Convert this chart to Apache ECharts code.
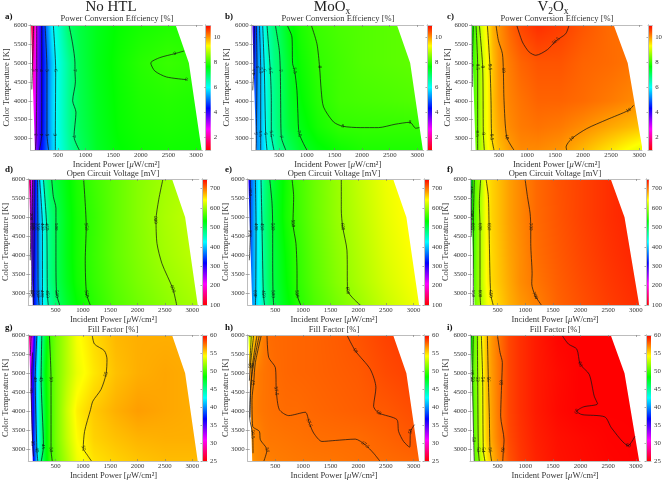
<!DOCTYPE html>
<html>
<head>
<meta charset="utf-8">
<title>Device maps</title>
<style>html,body{margin:0;padding:0;background:#fff}#chart{width:665px;height:481px}</style>
<script src="https://cdn.jsdelivr.net/npm/echarts@6/dist/echarts.min.js"></script>
</head>
<body>
<div id="chart"></div>
<script>
// Sampling knots of the measured maps: incident power (uW/cm2) and colour temperature (K)
const powerKnots = [0, 60, 120, 200, 300, 400, 500, 700, 900, 1200, 1600, 2000, 2500, 3120];
const tempKnots = [6000, 5000, 4000, 3300, 2700];

// Power conversion efficiency [%]
const pceNoHtl = [
  [1.0, 2.0, 3.1, 4.15, 5.2, 5.95, 6.3, 7.0, 7.25, 7.5, 7.7, 7.8, 7.87, 7.85],
  [1.2, 2.3, 3.3, 4.1, 4.95, 5.6, 6.15, 6.72, 7.2, 7.52, 7.75, 7.92, 8.03, 7.95],
  [1.8, 2.5, 3.4, 4.1, 5.0, 5.65, 6.15, 6.72, 7.15, 7.48, 7.72, 7.85, 7.9, 7.85],
  [2.0, 2.7, 3.5, 4.15, 5.0, 5.65, 6.15, 6.7, 7.12, 7.45, 7.7, 7.8, 7.84, 7.8],
  [2.5, 3.0, 3.6, 4.3, 5.0, 5.6, 6.1, 6.62, 7.03, 7.42, 7.65, 7.74, 7.77, 7.75]
];
const pceMoOx = [
  [3.5, 4.5, 5.3, 6.0, 6.6, 6.9, 7.1, 7.6, 7.85, 8.05, 8.15, 8.2, 8.25, 8.3],
  [4.0, 4.7, 5.3, 5.8, 6.4, 6.8, 6.97, 7.45, 7.75, 7.98, 8.1, 8.2, 8.25, 8.3],
  [4.4, 4.9, 5.3, 5.75, 6.35, 6.75, 6.95, 7.4, 7.65, 7.9, 8.08, 8.12, 8.15, 8.2],
  [4.6, 5.0, 5.35, 5.75, 6.35, 6.7, 6.95, 7.35, 7.55, 7.8, 7.98, 8.0, 8.0, 8.0],
  [4.8, 5.0, 5.35, 5.7, 6.2, 6.5, 6.8, 7.1, 7.4, 7.6, 7.75, 7.85, 7.85, 7.85]
];
const pceV2Ox = [
  [7.3, 8.1, 8.6, 9.1, 9.5, 9.85, 10.05, 10.35, 10.55, 10.7, 10.6, 10.45, 10.3, 10.25],
  [7.8, 8.1, 8.5, 8.95, 9.4, 9.75, 10.02, 10.2, 10.35, 10.45, 10.45, 10.35, 10.3, 10.2],
  [7.9, 8.2, 8.5, 8.95, 9.4, 9.75, 9.98, 10.15, 10.25, 10.35, 10.35, 10.3, 10.2, 10.05],
  [8.0, 8.2, 8.5, 8.95, 9.4, 9.7, 9.9, 10.1, 10.2, 10.25, 10.2, 10.08, 9.9, 9.7],
  [8.1, 8.3, 8.55, 8.9, 9.3, 9.55, 9.75, 9.98, 10.1, 10.1, 10.02, 9.8, 9.5, 9.1]
];

// Open circuit voltage [mV]
const vocNoHtl = [
  [100, 230, 310, 395, 465, 495, 510, 530, 545, 560, 575, 590, 602, 612],
  [170, 260, 320, 385, 445, 480, 498, 525, 542, 556, 575, 590, 605, 618],
  [220, 280, 325, 385, 445, 478, 498, 525, 542, 557, 575, 588, 602, 615],
  [230, 285, 330, 385, 445, 478, 497, 522, 540, 555, 572, 585, 597, 610],
  [250, 290, 330, 378, 435, 468, 488, 515, 533, 550, 568, 580, 592, 605]
];
const vocMoOx = [
  [270, 355, 385, 425, 475, 501, 515, 540, 560, 578, 597, 615, 635, 650],
  [310, 352, 392, 432, 478, 502, 516, 542, 558, 577, 596, 612, 632, 650],
  [320, 355, 393, 428, 472, 498, 510, 535, 553, 573, 592, 608, 628, 645],
  [330, 360, 393, 428, 470, 496, 508, 532, 551, 570, 589, 605, 624, 642],
  [340, 365, 393, 425, 462, 490, 503, 527, 546, 565, 582, 598, 618, 637]
];
const vocV2Ox = [
  [420, 560, 585, 605, 652, 660, 668, 682, 692, 705, 715, 722, 730, 738],
  [470, 555, 585, 610, 645, 660, 668, 682, 692, 705, 714, 722, 730, 738],
  [510, 555, 590, 610, 645, 658, 666, 680, 690, 703, 712, 720, 728, 736],
  [515, 560, 590, 610, 645, 658, 665, 678, 690, 700, 710, 718, 726, 734],
  [520, 565, 590, 605, 635, 650, 660, 675, 685, 695, 708, 716, 724, 732]
];

// Fill factor [%]
const ffNoHtl = [
  [26, 31, 38, 43, 47, 49.8, 51, 52.5, 54, 55, 55.8, 56, 56, 56],
  [29, 35, 39.5, 44, 48, 49.8, 51, 52.5, 53.7, 54.7, 55.6, 56, 56.2, 56],
  [30, 35, 39, 44, 47.5, 49.7, 51, 53, 54.5, 55.4, 56, 56.4, 56.2, 56],
  [30, 35.5, 39, 43.5, 47.5, 49.7, 51, 52.8, 54.2, 55.2, 55.6, 55.9, 56, 56],
  [31, 35, 38.5, 44, 47.5, 49.5, 50.7, 52.3, 53.8, 54.8, 55.2, 55.5, 55.7, 55.7]
];
const ffMoOx = [
  [52, 53.5, 55.5, 56.6, 57.2, 57.55, 57.6, 57.65, 57.7, 57.75, 57.9, 58.1, 58.5, 58.8],
  [56.3, 56.7, 57, 57.2, 57.35, 57.45, 57.55, 57.65, 57.7, 57.75, 57.85, 57.95, 58.3, 58.6],
  [56.5, 56.8, 57.1, 57.25, 57.35, 57.42, 57.47, 57.55, 57.55, 57.65, 57.75, 57.85, 57.98, 58.3],
  [56.2, 56.6, 56.9, 57, 57.2, 57.3, 57.3, 57.35, 57.4, 57.48, 57.52, 57.55, 57.75, 58.05],
  [56.2, 56.5, 56.7, 56.9, 57, 57.1, 57.15, 57.2, 57.25, 57.3, 57.35, 57.45, 57.55, 57.7]
];
const ffV2Ox = [
  [46, 50, 51.6, 54, 55.8, 56.6, 57.3, 58.4, 58.9, 59.4, 59.9, 60, 60, 60],
  [47, 50.3, 51.6, 53.6, 55.7, 56.5, 57.2, 58.4, 58.9, 59.4, 59.75, 60, 60, 60],
  [47.5, 50, 51.4, 53.4, 55.5, 56.4, 57.2, 58.4, 58.9, 59.4, 59.8, 60, 60, 60],
  [48, 50, 51.4, 53.3, 55.4, 56.3, 57.1, 58.3, 58.8, 59.3, 59.65, 59.8, 59.95, 60],
  [48, 50, 51, 52.6, 54.6, 55.8, 56.7, 58.1, 58.7, 59.2, 59.6, 59.75, 59.9, 60]
];

// Iso-lines: [level, [[power, temperature], ...], [vertices that carry a label]]
const linesPceNoHtl = [
  [2, [[60, 6000], [45, 5300], [35, 4800], [25, 4300]], [2]],
  [3, [[115, 6000], [115, 4800], [105, 3100], [90, 2700]], [1, 2]],
  [4, [[205, 6000], [205, 4800], [205, 3100], [163, 2700]], [1, 2]],
  [5, [[265, 6000], [300, 4800], [300, 3100], [330, 2700]], [1, 2]],
  [6, [[415, 6000], [458, 4800], [452, 3100], [452, 2700]], [1, 2]],
  [7, [[699, 6000], [765, 5500], [807, 5000], [807, 4800], [815, 4500], [765, 4000], [825, 3700], [790, 3050], [885, 2700]], [3, 7]],
  [8, [[2783, 5314], [2614, 5243], [2343, 5138], [2180, 4997], [2253, 4786], [2464, 4628], [2825, 4558]], [1, 6]]
];
const linesPceMoOx = [
  [4.5, [[48, 6000], [36, 4760], [18, 4276]], [1]],
  [5, [[84, 6000], [96, 4892], [84, 3133], [78, 2693]], [1, 2]],
  [5.5, [[139, 6000], [163, 4800], [163, 3133], [163, 2693]], [1, 2]],
  [6, [[199, 6000], [229, 4800], [253, 3133], [277, 2693]], [1, 2]],
  [6.5, [[277, 6000], [337, 4800], [355, 4012], [355, 3133], [404, 2693]], [1, 3]],
  [7, [[428, 6000], [500, 5331], [518, 4800], [524, 4012], [536, 3045], [620, 2693]], [2, 4]],
  [7.5, [[639, 6000], [729, 5683], [741, 4980], [777, 4800], [819, 4276], [837, 3660], [861, 3133], [1000, 2693]], [3, 6]],
  [8, [[1078, 6000], [1181, 5507], [1229, 4892], [1259, 4276], [1301, 3836], [1482, 3440], [1651, 3326], [1964, 3291], [2295, 3291], [2596, 3379], [2867, 3432], [2970, 3274], [3036, 3291]], [2, 6, 10]]
];
const linesPceV2Ox = [
  [8, [[42, 6000], [24, 4936], [24, 4364]], [1]],
  [8.5, [[89, 6000], [119, 4892], [119, 3133], [119, 2693]], [1, 2]],
  [9, [[149, 6000], [208, 4892], [220, 3133], [238, 2693]], [1, 2]],
  [9.5, [[292, 6000], [339, 4892], [357, 4012], [369, 3045], [411, 2693]], [1, 3]],
  [10, [[446, 6000], [488, 5595], [560, 5244], [577, 4804], [589, 4012], [637, 3045], [768, 2693]], [3, 5]],
  [10.5, [[815, 6000], [917, 5551], [1036, 5288], [1155, 5200], [1363, 5349], [1512, 5578], [1690, 5771], [1750, 6000]], [5]],
  [10, [[2899, 3880], [2810, 3748], [2423, 3502], [2065, 3265], [1798, 3001], [1696, 2781], [1708, 2693]], [1, 4]]
];
const linesVocNoHtl = [
  [200, [[36, 6000], [48, 5015], [36, 3872]], [1]],
  [250, [[78, 6000], [72, 4751], [60, 2992]], [1, 2]],
  [300, [[108, 6000], [108, 4751], [96, 2992], [96, 2684]], [1, 2]],
  [350, [[169, 6000], [175, 4751], [181, 2992], [199, 2684]], [1, 2]],
  [400, [[205, 6000], [259, 4751], [259, 2992], [259, 2684]], [1, 2]],
  [450, [[277, 6000], [337, 4751], [349, 2992], [367, 2684]], [1, 2]],
  [500, [[428, 6000], [458, 5543], [506, 5235], [506, 4751], [506, 3872], [518, 2992], [578, 2684]], [3, 5]],
  [550, [[1012, 6000], [1060, 4751], [1042, 3872], [1066, 2992], [1138, 2684]], [1, 3]],
  [600, [[2464, 6000], [2386, 5455], [2337, 4927], [2355, 4311], [2446, 3784], [2645, 3124], [2717, 2684]], [2, 5]]
];
const linesVocMoOx = [
  [350, [[48, 6000], [48, 5650], [48, 4575], [30, 3872]], [1, 2]],
  [400, [[139, 6000], [151, 4751], [145, 2992], [139, 2684]], [1, 2]],
  [450, [[241, 6000], [259, 4751], [283, 2992], [307, 2684]], [1, 2]],
  [500, [[398, 6000], [440, 5367], [452, 4751], [452, 3872], [458, 2992], [470, 2684]], [2, 4]],
  [550, [[801, 6000], [831, 5543], [819, 4839], [873, 4311], [892, 3520], [892, 2992], [964, 2684]], [2, 5]],
  [600, [[1693, 6000], [1693, 5191], [1717, 4751], [1795, 4135], [1807, 3080], [1916, 2860], [2048, 2684]], [2, 4]]
];
const linesVocV2Ox = [
  [450, [[18, 5719], [18, 5015]], [0, 1]],
  [500, [[36, 6000], [30, 5103], [24, 4500]], [1]],
  [550, [[78, 6000], [60, 4751], [60, 3000], [60, 2684]], [1, 2]],
  [600, [[193, 6000], [169, 5367], [181, 4751], [181, 3000], [193, 2684]], [2, 3]],
  [650, [[290, 6000], [332, 5543], [345, 4751], [350, 4311], [374, 2992], [423, 2684]], [2, 4]],
  [700, [[996, 6000], [1039, 5543], [1087, 5103], [1099, 4751], [1099, 4311], [1123, 3520], [1117, 3256], [1178, 2948], [1298, 2684]], [3, 7]]
];
const linesFfNoHtl = [
  [30, [[54, 6000], [36, 5455]], [0]],
  [35, [[78, 5543], [54, 4531], [78, 3168], [96, 2816]], [1, 2]],
  [40, [[157, 6000], [127, 4839], [157, 2992], [175, 2684]], [1, 2]],
  [45, [[247, 6000], [235, 4839], [277, 3080], [235, 2684]], [1, 2]],
  [50, [[386, 6000], [416, 4839], [416, 2992], [440, 2684]], [1, 2]],
  [55, [[1169, 6000], [1211, 5763], [1392, 5587], [1440, 5367], [1422, 4971], [1331, 4575], [1181, 4267], [1139, 4047], [1030, 3476], [1006, 3037], [1078, 2860], [1163, 2684]], [4, 9]]
];
const linesFfMoOx = [
  [54, [[66, 6000], [36, 5191]], [0]],
  [55, [[108, 6000], [48, 5191], [30, 4800]], [1]],
  [56, [[169, 6000], [84, 5191], [54, 4540], [42, 3837]], [1]],
  [56.5, [[211, 6000], [100, 5200], [48, 4540], [36, 3837], [90, 3398], [96, 2904]], [4]],
  [57, [[247, 6000], [139, 5279], [108, 4751], [78, 4311], [90, 3608], [211, 3476], [229, 3256], [349, 2992], [289, 2684]], [2, 7]],
  [57.5, [[349, 6000], [380, 5411], [500, 5147], [518, 4531], [572, 4047], [741, 3889], [1042, 3977], [1114, 3696], [1193, 3432], [1343, 3212], [1584, 3238], [1946, 3273], [2126, 3124], [2277, 2904], [2398, 2684]], [3, 7, 12]],
  [58, [[1795, 6000], [1946, 5587], [2217, 5103], [2319, 4619], [2277, 4135], [2367, 3959], [2699, 3784], [2729, 3476], [2819, 3212], [2928, 3062], [2946, 3476], [3018, 3652]], [1, 5, 10]]
];
const linesFfV2Ox = [
  [48, [[18, 6000], [12, 4839], [12, 4400]], [0, 1]],
  [50, [[60, 6000], [48, 5015], [48, 4839], [66, 3256], [78, 2684]], [1, 2, 3]],
  [52, [[133, 6000], [139, 4839], [151, 2992], [169, 2684]], [1, 2]],
  [54, [[205, 6000], [229, 4839], [241, 2992], [272, 2684]], [1, 2]],
  [56, [[314, 6000], [332, 4839], [350, 3872], [362, 2992], [393, 2684]], [1, 3]],
  [58, [[495, 6000], [543, 5543], [585, 5279], [573, 4751], [555, 3872], [616, 3256], [604, 2992], [592, 2684]], [3, 6]],
  [60, [[1661, 6000], [1781, 5763], [1932, 5631], [1993, 5235], [2156, 4971], [2247, 4399], [2307, 4197], [2053, 4118], [1932, 4003], [2023, 3916], [2440, 3854], [2560, 3564], [2862, 3106], [2983, 3344]], [3, 8, 12]]
];

// Scales and tick labels
const pceRange = [1, 11];
const vocRange = [100, 750];
const ffRange = [25, 60];
const pceBarTicks = [2, 4, 6, 8, 10];
const vocBarTicks = [100, 200, 300, 400, 500, 600, 700];
const ffBarTicks = [25, 30, 35, 40, 45, 50, 55, 60];
const powerTicks = [500, 1000, 1500, 2000, 2500, 3000];
const tempTicks = [3000, 3500, 4000, 4500, 5000, 5500, 6000];

// Edges of the measured region
const rightEdgeWide = [[2630, 6000], [2870, 5000], [3100, 2700]];
const rightEdgeNarrow = [[2545, 6000], [2795, 5000], [3060, 2700]];
const leftEdge = [[12, 6000], [82, 2700]];

const INK = '#333';
const SERIF = '"Liberation Serif", serif';
const plainNumber = (v) => String(v);

const panels = [
  { tag: 'a)', tagX: 5, tagY: 17, title: 'Power Conversion Effciency [%]', titleX: 117, titleY: 19, field: pceNoHtl, lines: linesPceNoHtl, range: pceRange, barTicks: pceBarTicks, edge: rightEdgeWide, left: 30.4, top: 25, w: 172, h: 125, xMax: 3115, bar: 205.7, gap: 19.4 },
  { tag: 'b)', tagX: 225, tagY: 17, title: 'Power Conversion Effciency [%]', titleX: 338, titleY: 19, field: pceMoOx, lines: linesPceMoOx, range: pceRange, barTicks: pceBarTicks, edge: rightEdgeWide, left: 251.7, top: 25, w: 172, h: 125, xMax: 3115, bar: 427, gap: 20.7 },
  { tag: 'c)', tagX: 447, tagY: 17, title: 'Power Conversion Effciency [%]', titleX: 557, titleY: 19, field: pceV2Ox, lines: linesPceV2Ox, range: pceRange, barTicks: pceBarTicks, edge: rightEdgeNarrow, left: 471, top: 25, w: 171, h: 125, xMax: 3050, bar: 648, gap: 19 },
  { tag: 'd)', tagX: 5, tagY: 170, title: 'Open Circuit Voltage [mV]', titleX: 113, titleY: 174, field: vocNoHtl, lines: linesVocNoHtl, range: vocRange, barTicks: vocBarTicks, edge: rightEdgeWide, left: 26.3, top: 179, w: 172.5, h: 126, xMax: 3120, bar: 202, gap: 18.3 },
  { tag: 'e)', tagX: 225, tagY: 170, title: 'Open Circuit Voltage [mV]', titleX: 334, titleY: 174, field: vocMoOx, lines: linesVocMoOx, range: vocRange, barTicks: vocBarTicks, edge: rightEdgeWide, left: 247.7, top: 179, w: 172.5, h: 126, xMax: 3120, bar: 424, gap: 17.7 },
  { tag: 'f)', tagX: 447, tagY: 170, title: 'Open Circuit Voltage [mV]', titleX: 555, titleY: 174, field: vocV2Ox, lines: linesVocV2Ox, range: vocRange, barTicks: vocBarTicks, edge: rightEdgeNarrow, left: 470, top: 179, w: 170, h: 126, xMax: 3075, bar: 646, gap: 20 },
  { tag: 'g)', tagX: 5, tagY: 328, title: 'Fill Factor [%]', titleX: 113, titleY: 330, field: ffNoHtl, lines: linesFfNoHtl, range: ffRange, barTicks: ffBarTicks, edge: rightEdgeWide, left: 26.3, top: 335, w: 172.5, h: 126, xMax: 3120, bar: 202, gap: 18.3 },
  { tag: 'h)', tagX: 225, tagY: 328, title: 'Fill Factor [%]', titleX: 334, titleY: 330, field: ffMoOx, lines: linesFfMoOx, range: ffRange, barTicks: ffBarTicks, edge: rightEdgeWide, left: 247.7, top: 335, w: 172.5, h: 126, xMax: 3120, bar: 424, gap: 17.7 },
  { tag: 'i)', tagX: 447, tagY: 328, title: 'Fill Factor [%]', titleX: 555, titleY: 330, field: ffV2Ox, lines: linesFfV2Ox, range: ffRange, barTicks: ffBarTicks, edge: rightEdgeNarrow, left: 470, top: 335, w: 170, h: 126, xMax: 3075, bar: 646, gap: 20 }
];

// Flipped HSV wheel: red at the bottom of the scale, back to red at the top
function hueRgb(hue) {
  const h = ((hue % 360) + 360) % 360 / 60;
  const x = 255 * (1 - Math.abs(h % 2 - 1));
  const table = [[255, x, 0], [x, 255, 0], [0, 255, x], [0, x, 255], [x, 0, 255], [255, 0, x]];
  return table[Math.floor(h) % 6];
}
function valueRgb(v, range) {
  const t = Math.min(1, Math.max(0, (v - range[0]) / (range[1] - range[0])));
  return hueRgb(360 * (1 - t));
}
function rgbText(c) {
  return 'rgb(' + c.map(Math.round).join(',') + ')';
}

// One image per knot cell, shaded between its four corner values
function fieldRender(range) {
  return function (params, api) {
    const p0 = api.coord([api.value(0), api.value(1)]);
    const p1 = api.coord([api.value(2), api.value(3)]);
    const x0 = Math.round(Math.min(p0[0], p1[0]));
    const x1 = Math.round(Math.max(p0[0], p1[0]));
    const y0 = Math.round(Math.min(p0[1], p1[1]));
    const y1 = Math.round(Math.max(p0[1], p1[1]));
    const w = Math.max(1, x1 - x0);
    const h = Math.max(1, y1 - y0);
    const canvas = document.createElement('canvas');
    canvas.width = w;
    canvas.height = h;
    const ctx = canvas.getContext('2d');
    const img = ctx.createImageData(w, h);
    const tl = api.value(4), tr = api.value(5), bl = api.value(6), br = api.value(7);
    for (let j = 0; j < h; j++) {
      const v = (j + 0.5) / h;
      for (let i = 0; i < w; i++) {
        const u = (i + 0.5) / w;
        const val = (tl * (1 - u) + tr * u) * (1 - v) + (bl * (1 - u) + br * u) * v;
        const c = valueRgb(val, range);
        const k = (j * w + i) * 4;
        img.data[k] = c[0];
        img.data[k + 1] = c[1];
        img.data[k + 2] = c[2];
        img.data[k + 3] = 255;
      }
    }
    ctx.putImageData(img, 0, 0);
    return { type: 'image', silent: true, style: { image: canvas, x: x0, y: y0, width: w, height: h } };
  };
}

function fieldCells(field) {
  const cells = [];
  for (let r = 0; r + 1 < tempKnots.length; r++) {
    for (let c = 0; c + 1 < powerKnots.length; c++) {
      cells.push([powerKnots[c], tempKnots[r], powerKnots[c + 1], tempKnots[r + 1],
        field[r][c], field[r][c + 1], field[r + 1][c], field[r + 1][c + 1]]);
    }
  }
  return cells;
}

const grid = [], xAxis = [], yAxis = [], series = [], title = [];

function addAxes(gridIndex, xOpt, yOpt) {
  xAxis.push(xOpt);
  yAxis.push(yOpt);
  return { xAxisIndex: xAxis.length - 1, yAxisIndex: yAxis.length - 1 };
}

const frameLine = { show: true, lineStyle: { color: '#bdbdbd', width: 1 } };
const innerTick = (vals) => ({ show: true, inside: true, length: 2, customValues: vals, lineStyle: { color: '#777', width: 0.6 } });

title.push({ text: 'No HTL', left: 111, top: 7, padding: 0, textAlign: 'center', textVerticalAlign: 'middle', textStyle: { fontFamily: SERIF, fontSize: 15, fontWeight: 'normal', color: '#222' } });
['MoO{s|x}', 'V{s|2}O{s|x}'].forEach((t, i) => {
  title.push({
    text: t, left: i ? 553 : 332, top: 7, padding: 0, textAlign: 'center', textVerticalAlign: 'middle',
    textStyle: { fontFamily: SERIF, fontSize: 15, fontWeight: 'normal', color: '#222', rich: { s: { fontFamily: SERIF, fontSize: 9.5, color: '#222', verticalAlign: 'bottom', lineHeight: 18 } } }
  });
});

panels.forEach((p) => {
  title.push({ text: p.tag, left: p.tagX, top: p.tagY, padding: 0, textVerticalAlign: 'middle', textStyle: { fontFamily: SERIF, fontSize: 9, fontWeight: 'bold', color: '#111' } });
  title.push({ text: p.title, left: p.titleX, top: p.titleY, padding: 0, textAlign: 'center', textVerticalAlign: 'middle', textStyle: { fontFamily: SERIF, fontSize: 8.5, fontWeight: 'normal', color: INK } });

  // Map area
  const g = grid.length;
  grid.push({ left: p.left, top: p.top, width: p.w, height: p.h });
  const ax = addAxes(g, {
    type: 'value', gridIndex: g, min: 0, max: p.xMax, z: 10, position: 'bottom',
    axisLine: frameLine, axisTick: innerTick(powerTicks), splitLine: { show: false },
    axisLabel: { customValues: powerTicks, formatter: plainNumber, margin: 2, fontFamily: SERIF, fontSize: 6.8, color: INK },
    name: 'Incident Power [{m|\u03bc}W/cm\u00b2]', nameLocation: 'middle', nameGap: 9,
    nameTextStyle: { fontFamily: SERIF, fontSize: 8.5, color: INK, rich: { m: { fontFamily: SERIF, fontStyle: 'italic', fontSize: 8.5, color: INK } } }
  }, {
    type: 'value', gridIndex: g, min: 2700, max: 6000, z: 10, position: 'left',
    axisLine: frameLine, axisTick: innerTick(tempTicks), splitLine: { show: false },
    axisLabel: { customValues: tempTicks, formatter: plainNumber, margin: 3, fontFamily: SERIF, fontSize: 6.8, color: INK },
    name: 'Color Temperature [K]', nameLocation: 'middle', nameGap: p.gap, nameRotate: 90, nameMoveOverlap: false,
    nameTextStyle: { fontFamily: SERIF, fontSize: 8.5, color: INK }
  });
  addAxes(g, {
    type: 'value', gridIndex: g, min: 0, max: p.xMax, z: 10, position: 'top',
    axisLine: frameLine, axisTick: innerTick(powerTicks), axisLabel: { show: false }, splitLine: { show: false }
  }, {
    type: 'value', gridIndex: g, min: 2700, max: 6000, z: 10, position: 'right',
    axisLine: frameLine, axisTick: innerTick(tempTicks), axisLabel: { show: false }, splitLine: { show: false }
  });

  // Filled field
  series.push({
    type: 'custom', xAxisIndex: ax.xAxisIndex, yAxisIndex: ax.yAxisIndex, z: 2, clip: true, silent: true,
    coordinateSystem: 'cartesian2d', renderItem: fieldRender(p.range), data: fieldCells(p.field)
  });

  // White outside the measured region
  const masks = [
    [[-20, 6020]].concat([[leftEdge[0][0], 6020]], leftEdge, [[leftEdge[1][0], 2680], [-20, 2680]]),
    [[p.edge[0][0], 6020]].concat(p.edge, [[p.edge[2][0], 2680], [3300, 2680], [3300, 6020]])
  ];
  series.push({
    type: 'custom', xAxisIndex: ax.xAxisIndex, yAxisIndex: ax.yAxisIndex, z: 3, clip: true, silent: true,
    coordinateSystem: 'cartesian2d', data: [[0, 2700], [0, 2700]],
    renderItem: (params, api) => ({
      type: 'polygon', silent: true,
      shape: { points: masks[params.dataIndex].map((pt) => api.coord(pt)) },
      style: { fill: '#fff', stroke: null }
    })
  });

  // Iso-lines and their value labels
  const labels = [];
  p.lines.forEach((line) => {
    series.push({
      type: 'line', xAxisIndex: ax.xAxisIndex, yAxisIndex: ax.yAxisIndex, z: 4, silent: true, clip: true,
      data: line[1], showSymbol: false, symbol: 'none', smooth: 0.25,
      lineStyle: { color: '#151515', width: 0.75 }
    });
    line[2].forEach((idx) => {
      const pts = line[1];
      const a = pts[Math.max(0, idx - 1)], b = pts[idx], c = pts[Math.min(pts.length - 1, idx + 1)];
      labels.push([b[0], b[1], a[0], a[1], c[0], c[1], line[0]]);
    });
  });
  series.push({
    type: 'custom', xAxisIndex: ax.xAxisIndex, yAxisIndex: ax.yAxisIndex, z: 5, clip: true, silent: true,
    coordinateSystem: 'cartesian2d', data: labels,
    renderItem: (params, api) => {
      const at = api.coord([api.value(0), api.value(1)]);
      const a = api.coord([api.value(2), api.value(3)]);
      const c = api.coord([api.value(4), api.value(5)]);
      let ang = Math.atan2(c[1] - a[1], c[0] - a[0]);
      if (ang > Math.PI / 2) ang -= Math.PI;
      if (ang < -Math.PI / 2) ang += Math.PI;
      return {
        type: 'text', silent: true, x: at[0], y: at[1], rotation: -ang,
        style: { text: String(api.value(6)), fill: '#111', align: 'center', verticalAlign: 'middle', font: '5px ' + SERIF }
      };
    }
  });

  // Colour bar with its own value axis
  const b = grid.length;
  grid.push({ left: p.bar, top: p.top, width: 5, height: p.h });
  const barAx = addAxes(b, {
    type: 'value', gridIndex: b, min: 0, max: 1, z: 10, position: 'bottom',
    axisLine: frameLine, axisTick: { show: false }, axisLabel: { show: false }, splitLine: { show: false }
  }, {
    type: 'value', gridIndex: b, min: p.range[0], max: p.range[1], z: 10, position: 'right',
    axisLine: frameLine, axisTick: { show: true, inside: true, length: 1.5, customValues: p.barTicks, lineStyle: { color: '#777', width: 0.6 } },
    axisLabel: { customValues: p.barTicks, formatter: plainNumber, margin: 3, fontFamily: SERIF, fontSize: 6.8, color: INK },
    splitLine: { show: false }
  });
  addAxes(b, {
    type: 'value', gridIndex: b, min: 0, max: 1, z: 10, position: 'top',
    axisLine: frameLine, axisTick: { show: false }, axisLabel: { show: false }, splitLine: { show: false }
  }, {
    type: 'value', gridIndex: b, min: p.range[0], max: p.range[1], z: 10, position: 'left',
    axisLine: frameLine, axisTick: { show: false }, axisLabel: { show: false }, splitLine: { show: false }
  });
  series.push({
    type: 'custom', xAxisIndex: barAx.xAxisIndex, yAxisIndex: barAx.yAxisIndex, z: 2, silent: true,
    coordinateSystem: 'cartesian2d', data: [[0, p.range[0], 1, p.range[1]]],
    renderItem: (params, api) => {
      const lo = api.coord([api.value(0), api.value(1)]);
      const hi = api.coord([api.value(2), api.value(3)]);
      const stops = [0, 1, 2, 3, 4, 5, 6].map((i) => ({ offset: i / 6, color: rgbText(hueRgb(360 - i * 60)) }));
      return {
        type: 'rect', silent: true,
        shape: { x: lo[0], y: hi[1], width: hi[0] - lo[0], height: lo[1] - hi[1] },
        style: { fill: new echarts.graphic.LinearGradient(0, 1, 0, 0, stops) }
      };
    }
  });
});

const chart = echarts.init(document.getElementById('chart'), null, { renderer: 'canvas' });
chart.setOption({ animation: false, backgroundColor: '#fff', title, grid, xAxis, yAxis, series });
</script>
</body>
</html>
